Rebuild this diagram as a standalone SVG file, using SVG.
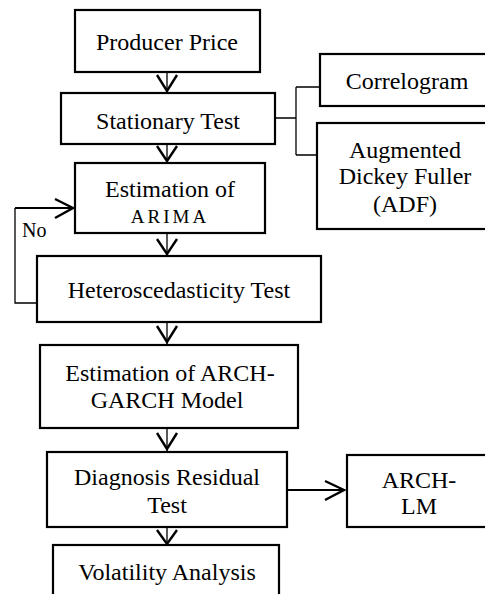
<svg xmlns="http://www.w3.org/2000/svg" width="485" height="594" viewBox="0 0 485 594">
<style>
.box{fill:#fff;stroke:#000;stroke-width:2.2}
.t{font-family:"Liberation Serif","Times New Roman",serif;font-size:24px;fill:#000;text-anchor:middle}
.ln{fill:none;stroke:#000;stroke-width:1.3}
.ah{fill:none;stroke:#000;stroke-width:2.4;stroke-linejoin:miter}
</style>
<rect width="485" height="594" fill="#fff"/>
<g id="connectors">
  <path class="ln" d="M167,72V92 M167,144V162 M167,233V255 M167,322V344 M167,428V451 M167,527V544"/>
  <path class="ah" d="M157,75L167,91L177,75 M157,146L167,161L177,146 M157,239L167,254L177,239 M157,326L167,342L177,326 M157,433L167,449L177,433 M157,530L167,544L177,530"/>
  <path class="ln" d="M275,118H296 M296,87V155 M296,87H320 M296,155H317"/>
  <path class="ln" d="M37,303H15V208" />
  <path class="ln" style="stroke-width:2" d="M15,208H73"/>
  <path class="ah" d="M55,199L73,208L55,218"/>
  <path class="ln" style="stroke-width:2" d="M287,490H344"/>
  <path class="ah" d="M325,481L344,490L325,500"/>
  <text class="t" x="22" y="237" style="font-size:20px;text-anchor:start">No</text>
</g>
<g id="producer">
  <rect class="box" x="75" y="10" width="185" height="62"/>
  <text class="t" x="167" y="50">Producer Price</text>
</g>
<g id="stationary">
  <rect class="box" x="61" y="93" width="214" height="51"/>
  <text class="t" x="168" y="129">Stationary Test</text>
</g>
<g id="correlogram">
  <rect class="box" x="320" y="54" width="180" height="52"/>
  <text class="t" x="407" y="89">Correlogram</text>
</g>
<g id="adf">
  <rect class="box" x="317" y="123" width="183" height="106"/>
  <text class="t" x="405" y="158">Augmented</text>
  <text class="t" x="405" y="184">Dickey Fuller</text>
  <text class="t" x="405" y="212">(ADF)</text>
</g>
<g id="arima">
  <rect class="box" x="75" y="163" width="190" height="70"/>
  <text class="t" x="170" y="197">Estimation of</text>
  <text class="t" x="170" y="223" style="font-size:19px;letter-spacing:3px">ARIMA</text>
</g>
<g id="hetero">
  <rect class="box" x="37" y="256" width="284" height="66"/>
  <text class="t" x="179" y="298">Heteroscedasticity Test</text>
</g>
<g id="archgarch">
  <rect class="box" x="40" y="345" width="258" height="83"/>
  <text class="t" x="170" y="381">Estimation of ARCH-</text>
  <text class="t" x="167" y="408">GARCH Model</text>
</g>
<g id="diagnosis">
  <rect class="box" x="47" y="452" width="240" height="75"/>
  <text class="t" x="167" y="485">Diagnosis Residual</text>
  <text class="t" x="167" y="513">Test</text>
</g>
<g id="archlm">
  <rect class="box" x="347" y="455" width="150" height="72"/>
  <text class="t" x="419" y="488">ARCH-</text>
  <text class="t" x="419" y="514">LM</text>
</g>
<g id="volatility">
  <rect class="box" x="53" y="545" width="226" height="60"/>
  <text class="t" x="167" y="580">Volatility Analysis</text>
</g>
</svg>
